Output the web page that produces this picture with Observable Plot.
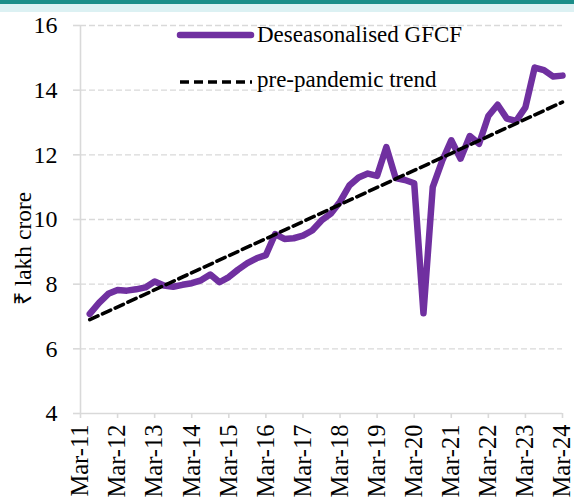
<!DOCTYPE html>
<html><head><meta charset="utf-8">
<script src="https://cdn.jsdelivr.net/npm/d3@7"></script>
<script src="https://cdn.jsdelivr.net/npm/@observablehq/plot@0.6"></script>
<style>
body{margin:0;background:#fff;}
#wrap{position:relative;width:574px;height:501px;overflow:hidden;}
#band{position:absolute;left:0;top:0;width:574px;height:12px;background:#dcf1f3;border-top:4px solid #1b8e89;box-sizing:border-box;z-index:2;}
#chart{position:absolute;left:0;top:0;z-index:1;}
#legend{position:absolute;left:0;top:0;z-index:3;}
</style></head>
<body>
<div id="wrap"><div id="chart"></div><div id="band"></div>
<svg id="legend" width="574" height="120" font-family="Liberation Serif, Times New Roman, serif" font-size="23"></svg>
</div>
<script>
const quarters = ["Jun-11","Sep-11","Dec-11","Mar-12","Jun-12","Sep-12","Dec-12","Mar-13","Jun-13","Sep-13","Dec-13","Mar-14","Jun-14","Sep-14","Dec-14","Mar-15","Jun-15","Sep-15","Dec-15","Mar-16","Jun-16","Sep-16","Dec-16","Mar-17","Jun-17","Sep-17","Dec-17","Mar-18","Jun-18","Sep-18","Dec-18","Mar-19","Jun-19","Sep-19","Dec-19","Mar-20","Jun-20","Sep-20","Dec-20","Mar-21","Jun-21","Sep-21","Dec-21","Mar-22","Jun-22","Sep-22","Dec-22","Mar-23","Jun-23","Sep-23","Dec-23","Mar-24"];
const gfcf = [7.08,7.42,7.70,7.82,
  7.80,7.84,7.90,8.08,
  7.96,7.92,7.98,8.03,
  8.12,8.30,8.06,8.22,
  8.45,8.65,8.80,8.90,
  9.55,9.40,9.42,9.50,
  9.66,9.97,10.18,10.55,
  11.05,11.30,11.42,11.35,
  12.24,11.28,11.22,11.12,
  7.10,11.00,11.80,12.45,
  11.88,12.58,12.34,13.20,
  13.55,13.12,13.05,13.47,
  14.70,14.62,14.42,14.45];
const trendQuarters = ["Jun-11","Mar-24"];
const trendValues = [6.9, 13.63];
const xTickLabels = ["Mar-11","Mar-12","Mar-13","Mar-14","Mar-15","Mar-16","Mar-17","Mar-18","Mar-19","Mar-20","Mar-21","Mar-22","Mar-23","Mar-24"];
const yTicks = [4,6,8,10,12,14,16];
const seriesNames = ["Deseasonalised GFCF","pre-pandemic trend"];
const yTitle = "₹ lakh crore";

const monthIdx = {Mar:0, Jun:1, Sep:2, Dec:3};
const qpos = s => { const [m, y] = s.split("-"); return (+y - 11) * 4 + monthIdx[m]; };
const data = quarters.map((q, i) => ({x: qpos(q), v: gfcf[i]}));
const trend = trendQuarters.map((q, i) => ({x: qpos(q), v: trendValues[i]}));
const purple = "#7030a0";
const grey = "#d9d9d9";

const chart = Plot.plot({
  width: 574, height: 501,
  marginLeft: 80, marginRight: 12, marginTop: 25, marginBottom: 88,
  x: {domain: [0, 52]},
  y: {domain: [4, 16]},
  style: {fontFamily: "Liberation Serif, Times New Roman, serif", fontSize: "23px", background: "transparent", color: "black"},
  marks: [
    Plot.ruleY(yTicks.filter(d => d > 4), {stroke: grey, strokeWidth: 1.4, strokeDasharray: "6,3"}),
    Plot.ruleX([0], {y1: 4, y2: 16, stroke: grey, strokeWidth: 1.6}),
    Plot.ruleY([4], {stroke: grey, strokeWidth: 1.6}),
    Plot.axisY({ticks: yTicks, tickSize: 7, tickPadding: 16, stroke: grey, strokeWidth: 1.6, fill: "black", fontSize: 24, label: null}),
    Plot.axisX({ticks: d3.range(0, 53, 4), tickFormat: i => xTickLabels[i / 4], tickRotate: -90, tickSize: 5, tickPadding: 6, stroke: grey, strokeWidth: 1.6, fill: "black", fontSize: 24.5, label: null}),
    Plot.text([yTitle], {frameAnchor: "left", rotate: -90, dx: -57, dy: 29, fontSize: 23.5, textAnchor: "middle", lineAnchor: "middle", fill: "black"}),
    Plot.line(data, {x: "x", y: "v", stroke: purple, strokeWidth: 6.5, strokeLinejoin: "round", strokeLinecap: "round"}),
    Plot.line(trend, {x: "x", y: "v", stroke: "black", strokeWidth: 3.6, strokeDasharray: "9,5"})
  ]
});
document.getElementById("chart").appendChild(chart);

const leg = d3.select("#legend");
leg.append("line").attr("x1", 180).attr("x2", 251).attr("y1", 35).attr("y2", 35)
  .attr("stroke", purple).attr("stroke-width", 6.5).attr("stroke-linecap", "round");
leg.append("text").attr("x", 257).attr("y", 42).text(seriesNames[0]);
leg.append("line").attr("x1", 180).attr("x2", 252).attr("y1", 82).attr("y2", 82)
  .attr("stroke", "black").attr("stroke-width", 3.6).attr("stroke-dasharray", "9,5");
leg.append("text").attr("x", 257).attr("y", 87).text(seriesNames[1]);
</script>
</body></html>
